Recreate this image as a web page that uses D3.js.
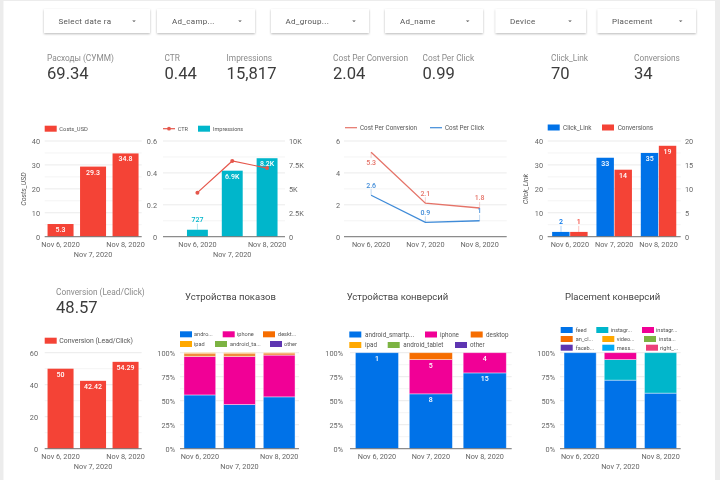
<!DOCTYPE html>
<html>
<head>
<meta charset="utf-8">
<script src="https://cdn.jsdelivr.net/npm/d3@7"></script>
<style>
    html, body { margin: 0; padding: 0; background: #fff; }
    #page { position: absolute; left: 0; top: 0; width: 720px; height: 480px; overflow: hidden; }
    svg { display: block; filter: blur(0.35px); }
    text { font-family: Roboto, sans-serif; }
    .axis text { font-size: 7.3px; fill: #666; }
    .axis path, .axis line { display: none; }
    .legend text { fill: #555; }
    .kpi-label { font-size: 8.3px; fill: #8a8a8a; }
    .kpi-value { font-size: 16.6px; fill: #3c3c3c; }
    .title { font-size: 9.5px; fill: #444; }
    .filter-text { font-size: 8px; fill: #555; letter-spacing: 0.3px; }
    .value-label { font-size: 7px; font-weight: 500; }
</style>
</head>
<body>
<div id="page"></div>
<script>

// Data
var dates = ["Nov 6, 2020", "Nov 7, 2020", "Nov 8, 2020"];

var costs = [5.3, 29.3, 34.8];
var ctr = [0.276, 0.475, 0.43];
var impressions = [727, 6900, 8200];
var impressionLabels = ["727", "6.9K", "8.2K"];
var costPerConversion = [5.3, 2.1, 1.8];
var costPerClick = [2.6, 0.9, 1];
var clickLink = [2, 33, 35];
var conversions = [1, 14, 19];
var conversionRate = [50, 42.42, 54.29];

// Shares of impressions per device
var shownAndroid = [56, 46, 54];
var shownIphone = [40, 50, 43.5];
var shownDesktop = [3.5, 3.5, 2.2];
var shownIpad = [0.5, 0.5, 0.3];

// Conversions per device
var convAndroid = [1, 8, 15];
var convIphone = [0, 5, 4];
var convDesktop = [0, 1, 0];

// Conversions per placement
var placeFeed = [1, 10, 11];
var placeInstagram = [0, 3, 8];
var placeStories = [0, 1, 0];

var filterNames = ["Select date ra", "Ad_camp...", "Ad_group...", "Ad_name", "Device", "Placement"];
var kpiNames = ["Расходы (СУММ)", "CTR", "Impressions", "Cost Per Conversion", "Cost Per Click", "Click_Link", "Conversions", "Conversion (Lead/Click)"];
var kpiValues = ["69.34", "0.44", "15,817", "2.04", "0.99", "70", "34", "48.57"];

// Colours
var red = "#f44336", blue = "#0072e8", teal = "#00b6cb", pink = "#f10096", orange = "#f66d00",
    yellow = "#ffa800", green = "#7cb342", purple = "#5e35b1", sky = "#03a9f4", rose = "#ec407a";

var top_y = 141, bottom_y = 236.7;
var top_y2 = 352.7, bottom_y2 = 448.7;

var svg = d3.select("#page").append("svg")
    .attr("width", 720)
    .attr("height", 480);

svg.append("rect").attr("width", 720).attr("height", 480).attr("fill", "#ececec");
svg.append("rect").attr("x", 3.5).attr("y", 1).attr("width", 711.5).attr("height", 479).attr("fill", "#fff");

var defs = svg.append("defs");
var shadow = defs.append("filter").attr("id", "card-shadow")
    .attr("x", "-10%").attr("y", "-20%").attr("width", "120%").attr("height", "150%");
shadow.append("feDropShadow")
    .attr("dx", 0).attr("dy", 1).attr("stdDeviation", 1)
    .attr("flood-color", "#000").attr("flood-opacity", 0.28);


/*
 *  Filter cards and scorecards
 */

var filterBoxes = [
    {x: 44, w: 106, tx: 58.5, ax: 134},
    {x: 157, w: 98, tx: 172, ax: 240},
    {x: 271, w: 98, tx: 285.5, ax: 354},
    {x: 385, w: 98, tx: 400, ax: 467.7},
    {x: 495.6, w: 90.4, tx: 510, ax: 570},
    {x: 597.6, w: 98.4, tx: 612, ax: 680.7}
];

filterBoxes.forEach(function(b, i) {
    svg.append("rect")
        .attr("x", b.x).attr("y", 9)
        .attr("width", b.w).attr("height", 24)
        .attr("fill", "#fff")
        .attr("filter", "url(#card-shadow)");

    svg.append("text")
        .attr("class", "filter-text")
        .attr("x", b.tx).attr("y", 24)
        .text(filterNames[i]);

    svg.append("path")
        .attr("d", "M" + (b.ax - 1.8) + ",20.5h3.6l-1.8,1.6z")
        .attr("fill", "#555");
});

var kpiBoxes = [
    {x: 47, y: 61, vy: 79},
    {x: 164.5, y: 61, vy: 79},
    {x: 226.6, y: 61, vy: 79},
    {x: 333, y: 61, vy: 79},
    {x: 422.5, y: 61, vy: 79},
    {x: 551, y: 61, vy: 79},
    {x: 634, y: 61, vy: 79},
    {x: 56, y: 295, vy: 312.5}
];

kpiBoxes.forEach(function(b, i) {
    svg.append("text").attr("class", "kpi-label")
        .attr("x", b.x).attr("y", b.y).text(kpiNames[i]);
    svg.append("text").attr("class", "kpi-value")
        .attr("x", b.x).attr("y", b.vy).text(kpiValues[i]);
});

[["Устройства показов", 185], ["Устройства конверсий", 346.7], ["Placement конверсий", 565]].forEach(function(t) {
    svg.append("text").attr("class", "title")
        .attr("x", t[1]).attr("y", 300).text(t[0]);
});


/*
 *  Helpers
 */

// Light horizontal grid, major and halfway lines
function drawGrid(y, x0, x1, ticks) {
    var g = svg.append("g");
    var y0 = y.range()[0], y1 = y.range()[1];

    g.selectAll("line").data(d3.range(0, ticks + 1))
        .enter().append("line")
        .attr("x1", x0).attr("x2", x1)
        .attr("y1", function(d) { return y0 + (y1 - y0) * d / ticks; })
        .attr("y2", function(d) { return y0 + (y1 - y0) * d / ticks; })
        .attr("stroke", function(d) { return d % 2 ? "#f4f4f4" : "#ebebeb"; })
        .attr("stroke-width", 1);
}

function drawBaseline(y, x0, x1) {
    svg.append("line")
        .attr("x1", x0).attr("x2", x1)
        .attr("y1", y.range()[0]).attr("y2", y.range()[0])
        .attr("stroke", "#757575").attr("stroke-width", 1);
}

function leftAxis(y, xPos, tickValues, format) {
    svg.append("g")
        .attr("class", "axis")
        .attr("transform", "translate(" + xPos + ",0)")
        .call(d3.axisLeft(y).tickValues(tickValues).tickSize(0).tickPadding(0).tickFormat(format || d3.format("d")));
}

function rightAxis(y, xPos, tickValues, format) {
    svg.append("g")
        .attr("class", "axis")
        .attr("transform", "translate(" + xPos + ",0)")
        .call(d3.axisRight(y).tickValues(tickValues).tickSize(0).tickPadding(0).tickFormat(format || d3.format("d")));
}

// x labels, the middle date drops one row when the chart is narrow
function dateAxis(x, yPos, stagger) {
    var g = svg.append("g")
        .attr("class", "axis")
        .attr("transform", "translate(0," + yPos + ")")
        .call(d3.axisBottom(x).tickSize(0).tickPadding(0));

    if (stagger) {
        g.selectAll("text")
            .attr("dy", function(d, i) { return i == 1 ? "2em" : "0.71em"; });
    }
}

function bandScale(x0, x1, padding) {
    return d3.scaleBand()
        .domain(dates)
        .range([x0, x1])
        .paddingInner(padding)
        .paddingOuter(padding / 2);
}

function drawLegend(items, fontSize) {
    var g = svg.append("g").attr("class", "legend");

    items.forEach(function(d) {
        if (d.line) {
            g.append("line")
                .attr("x1", d.x).attr("x2", d.x + 12)
                .attr("y1", d.y).attr("y2", d.y)
                .attr("stroke", d.color).attr("stroke-width", 1.2);
            if (d.dot) {
                g.append("circle").attr("cx", d.x + 6).attr("cy", d.y).attr("r", 1.9).attr("fill", d.color);
            }
        } else {
            g.append("rect")
                .attr("x", d.x).attr("y", d.y - 3)
                .attr("width", 12).attr("height", 6)
                .attr("fill", d.color);
        }
        g.append("text")
            .attr("x", d.tx).attr("y", d.y)
            .attr("dy", "0.35em")
            .attr("font-size", fontSize)
            .text(d.name);
    });
}

function drawBars(x, y, values, color, width, offset) {
    svg.append("g").selectAll("rect")
        .data(values)
        .enter().append("rect")
        .attr("x", function(d, i) { return x(dates[i]) + (offset || 0); })
        .attr("y", function(d) { return y(d); })
        .attr("width", width || x.bandwidth())
        .attr("height", function(d) { return y.range()[0] - y(d); })
        .attr("fill", color);
}

// White labels inside the top of the bars, short bars start at index "from"
function barLabels(x, y, values, labels, centerOffset, from) {
    values.forEach(function(d, i) {
        if (i < (from || 0)) return;
        svg.append("text")
            .attr("class", "value-label")
            .attr("text-anchor", "middle")
            .attr("x", x(dates[i]) + centerOffset)
            .attr("y", y(d) + 8)
            .attr("fill", "#fff")
            .text(labels[i]);
    });
}

// Small label that sits next to a short mark, with its thin leader
function leaderLabel(xPos, y, value, label, color, up) {
    svg.append("line")
        .attr("x1", xPos).attr("x2", xPos)
        .attr("y1", y(value)).attr("y2", y(value) + (up ? -6 : 6))
        .attr("stroke", color).attr("stroke-opacity", 0.45).attr("stroke-width", 0.7);
    svg.append("text")
        .attr("class", "value-label")
        .attr("text-anchor", "middle")
        .attr("x", xPos)
        .attr("y", y(value) + (up ? -7.5 : 13))
        .attr("fill", color)
        .text(label);
}

function stackedChart(x, y, series, colors) {
    var keys = d3.range(series.length);
    var rows = dates.map(function(d, i) {
        var total = d3.sum(series, function(s) { return s[i]; });
        var row = {date: d};
        keys.forEach(function(k) { row[k] = series[k][i] / total * 100; });
        return row;
    });
    var stacked = d3.stack().keys(keys)(rows);

    svg.append("g").selectAll("g")
        .data(stacked)
        .enter().append("g")
        .attr("fill", function(d) { return colors[d.key]; })
        .selectAll("rect")
        .data(function(d) { return d; })
        .enter().append("rect")
        .attr("x", function(d) { return x(d.data.date); })
        .attr("y", function(d) { return y(d[1]); })
        .attr("width", x.bandwidth())
        .attr("height", function(d) { return y(d[0]) - y(d[1]); })
        .attr("stroke", "#fff")
        .attr("stroke-opacity", 0.5)
        .attr("stroke-width", function(d) { return d[1] > d[0] ? 0.8 : 0; });

    return stacked;
}

var percentFormat = function(d) { return d + "%"; };
var plainFormat = function(d) { return d; };


/*
 *  Costs_USD
 */

var y1 = d3.scaleLinear().domain([0, 40]).range([bottom_y, top_y]);
var x1 = bandScale(44.3, 141.8, 0.2);
drawGrid(y1, 44.7, 141.7, 8);
drawBars(x1, y1, costs, red);
drawBaseline(y1, 44.7, 141.7);
barLabels(x1, y1, costs, costs, x1.bandwidth() / 2);
leftAxis(y1, 40, [0, 10, 20, 30, 40]);
dateAxis(x1, 242.3, true);
drawLegend([{x: 44.7, y: 128.7, tx: 59.3, color: red, name: "Costs_USD"}], 5.8);

svg.append("text")
    .attr("transform", "translate(26,189) rotate(-90)")
    .attr("text-anchor", "middle")
    .attr("font-size", 7)
    .attr("font-style", "italic")
    .attr("fill", "#555")
    .text("Costs_USD");


/*
 *  CTR and Impressions
 */

var y2 = d3.scaleLinear().domain([0, 0.6]).range([bottom_y, top_y]);
var y2r = d3.scaleLinear().domain([0, 10000]).range([bottom_y, top_y]);
var x2 = bandScale(180, 284.5, 0.4);
drawGrid(y2, 163, 285, 6);
drawBars(x2, y2r, impressions, teal);
drawBaseline(y2, 163, 285);
leaderLabel(x2(dates[0]) + x2.bandwidth() / 2, y2r, impressions[0], impressionLabels[0], teal, true);
barLabels(x2, y2r, impressions, impressionLabels, x2.bandwidth() / 2, 1);

svg.append("path")
    .datum(ctr)
    .attr("fill", "none")
    .attr("stroke", "#e5574c")
    .attr("stroke-width", 1.2)
    .attr("d", d3.line()
        .x(function(d, i) { return x2(dates[i]) + x2.bandwidth() / 2; })
        .y(function(d) { return y2(d); }));

svg.append("g").selectAll("circle")
    .data(ctr)
    .enter().append("circle")
    .attr("cx", function(d, i) { return x2(dates[i]) + x2.bandwidth() / 2; })
    .attr("cy", function(d) { return y2(d); })
    .attr("r", 2)
    .attr("fill", "#e5574c");

leftAxis(y2, 157, [0, 0.2, 0.4, 0.6], plainFormat);
rightAxis(y2r, 289, [0, 2500, 5000, 7500, 10000], function(d) { return d ? d / 1000 + "K" : "0"; });
dateAxis(x2, 242.3, true);
drawLegend([
    {x: 163, y: 128.7, tx: 177.7, color: "#e5574c", name: "CTR", line: true, dot: true},
    {x: 198, y: 128.7, tx: 213, color: teal, name: "Impressions"}
], 5.5);


/*
 *  Cost per conversion and cost per click
 */

var lineRed = "#e57368", lineBlue = "#3f8bd8";
var y3 = d3.scaleLinear().domain([0, 6]).range([bottom_y, top_y]);
var x3 = bandScale(344, 506.7, 0.2);
drawGrid(y3, 344, 506.7, 6);
drawBaseline(y3, 344, 506.7);

[[costPerConversion, lineRed], [costPerClick, lineBlue]].forEach(function(s) {
    svg.append("path")
        .datum(s[0])
        .attr("fill", "none")
        .attr("stroke", s[1])
        .attr("stroke-width", 1.3)
        .attr("d", d3.line()
            .x(function(d, i) { return x3(dates[i]) + x3.bandwidth() / 2; })
            .y(function(d) { return y3(d); }));
});

costPerConversion.forEach(function(d, i) {
    leaderLabel(x3(dates[i]) + x3.bandwidth() / 2, y3, d, d, lineRed, i > 0);
});
costPerClick.forEach(function(d, i) {
    leaderLabel(x3(dates[i]) + x3.bandwidth() / 2, y3, d, d, lineBlue, true);
});

leftAxis(y3, 340, [0, 2, 4, 6]);
dateAxis(x3, 242.3, false);
drawLegend([
    {x: 345, y: 127.7, tx: 360, color: lineRed, name: "Cost Per Conversion", line: true},
    {x: 430, y: 127.7, tx: 445, color: lineBlue, name: "Cost Per Click", line: true}
], 6.3);


/*
 *  Click_Link and Conversions
 */

var y4 = d3.scaleLinear().domain([0, 40]).range([bottom_y, top_y]);
var y4r = d3.scaleLinear().domain([0, 20]).range([bottom_y, top_y]);
var x4 = bandScale(547.7, 680.7, 0.2);
var half = x4.bandwidth() / 2;
drawGrid(y4, 547.7, 680.7, 8);
drawBars(x4, y4, clickLink, blue, half - 0.3);
drawBars(x4, y4r, conversions, red, half - 0.3, half + 0.3);
drawBaseline(y4, 547.7, 680.7);

leaderLabel(x4(dates[0]) + half / 2, y4, clickLink[0], clickLink[0], blue, true);
leaderLabel(x4(dates[0]) + half * 1.5, y4r, conversions[0], conversions[0], red, true);
barLabels(x4, y4, clickLink, clickLink, half / 2, 1);
barLabels(x4, y4r, conversions, conversions, half * 1.5, 1);

leftAxis(y4, 543, [0, 10, 20, 30, 40]);
rightAxis(y4r, 685, [0, 5, 10, 15, 20]);
dateAxis(x4, 242.3, false);
drawLegend([
    {x: 547.7, y: 127.5, tx: 563, color: blue, name: "Click_Link"},
    {x: 602, y: 127.5, tx: 617.7, color: red, name: "Conversions"}
], 6.4);

svg.append("text")
    .attr("transform", "translate(528,189) rotate(-90)")
    .attr("text-anchor", "middle")
    .attr("font-size", 7)
    .attr("font-style", "italic")
    .attr("fill", "#555")
    .text("Click_Link");


/*
 *  Conversion (Lead/Click)
 */

var y5 = d3.scaleLinear().domain([0, 60]).range([bottom_y2, top_y2]);
var x5 = bandScale(44.3, 141.8, 0.2);
drawGrid(y5, 44.7, 141.7, 6);
drawBars(x5, y5, conversionRate, red);
drawBaseline(y5, 44.7, 141.7);
barLabels(x5, y5, conversionRate, conversionRate, x5.bandwidth() / 2);
leftAxis(y5, 38, [0, 20, 40, 60]);
dateAxis(x5, 454, true);
drawLegend([{x: 44.7, y: 340.7, tx: 59.3, color: red, name: "Conversion (Lead/Click)"}], 6.9);


/*
 *  Stacked device and placement charts
 */

var yPct = d3.scaleLinear().domain([0, 100]).range([bottom_y2, top_y2]);
var pctTicks = [0, 25, 50, 75, 100];

// Impressions per device
var x6 = bandScale(180, 299, 0.2);
drawGrid(yPct, 180, 299, 8);
stackedChart(x6, yPct, [shownAndroid, shownIphone, shownDesktop, shownIpad], [blue, pink, "#f08a3c", yellow]);
drawBaseline(yPct, 180, 299);
leftAxis(yPct, 175, pctTicks, percentFormat);
dateAxis(x6, 454, true);
drawLegend([
    {x: 180, y: 334.3, tx: 194, color: blue, name: "andro..."},
    {x: 222.7, y: 334.3, tx: 237, color: pink, name: "iphone"},
    {x: 263, y: 334.3, tx: 278, color: orange, name: "deskt..."},
    {x: 180, y: 344, tx: 194, color: yellow, name: "ipad"},
    {x: 215, y: 344, tx: 230, color: green, name: "android_ta..."},
    {x: 270, y: 344, tx: 284, color: purple, name: "other"}
], 5.6);

// Conversions per device
var x7 = bandScale(350, 511.7, 0.2);
drawGrid(yPct, 350, 511.7, 8);
var stack7 = stackedChart(x7, yPct, [convAndroid, convIphone, convDesktop], [blue, pink, orange]);
drawBaseline(yPct, 350, 511.7);

[convAndroid, convIphone].forEach(function(s, k) {
    s.forEach(function(d, i) {
        if (d > 0) {
            svg.append("text").attr("class", "value-label").attr("text-anchor", "middle")
                .attr("x", x7(dates[i]) + x7.bandwidth() / 2)
                .attr("y", yPct(stack7[k][i][1]) + 8)
                .attr("fill", "#fff").text(d);
        }
    });
});

leftAxis(yPct, 343, pctTicks, percentFormat);
dateAxis(x7, 454, false);
drawLegend([
    {x: 349.3, y: 334.5, tx: 365, color: blue, name: "android_smartp..."},
    {x: 425, y: 334.5, tx: 440, color: pink, name: "iphone"},
    {x: 470.7, y: 334.5, tx: 486, color: orange, name: "desktop"},
    {x: 349.3, y: 345, tx: 365, color: yellow, name: "ipad"},
    {x: 387.7, y: 345, tx: 403.3, color: green, name: "android_tablet"},
    {x: 455, y: 345, tx: 470, color: purple, name: "other"}
], 6.3);

// Conversions per placement
var x8 = bandScale(560, 680.7, 0.2);
drawGrid(yPct, 560, 680.7, 8);
stackedChart(x8, yPct, [placeFeed, placeInstagram, placeStories], [blue, teal, pink]);
drawBaseline(yPct, 560, 680.7);
leftAxis(yPct, 555, pctTicks, percentFormat);
dateAxis(x8, 454, true);
drawLegend([
    {x: 560.7, y: 330, tx: 575.7, color: blue, name: "feed"},
    {x: 596.3, y: 330, tx: 610.7, color: teal, name: "instagr..."},
    {x: 642, y: 330, tx: 656, color: pink, name: "instagr..."},
    {x: 560.7, y: 339, tx: 575.7, color: orange, name: "an_cl..."},
    {x: 602.3, y: 339, tx: 616.7, color: yellow, name: "video..."},
    {x: 644, y: 339, tx: 659, color: green, name: "insta..."},
    {x: 560.7, y: 347.7, tx: 575.7, color: purple, name: "faceb..."},
    {x: 602.3, y: 347.7, tx: 616.7, color: sky, name: "mess..."},
    {x: 646, y: 347.7, tx: 660, color: rose, name: "right_..."}
], 5.6);

</script>
</body>
</html>
